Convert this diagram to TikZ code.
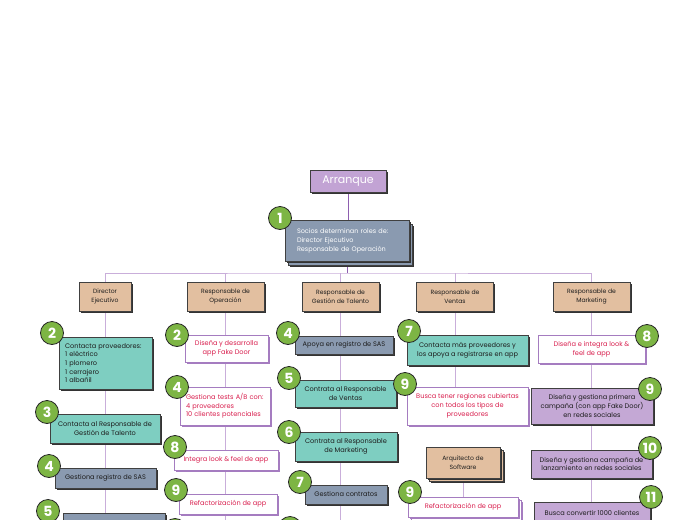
\documentclass[tikz,border=0pt]{standalone}
\usepackage{fontspec}
\setmainfont{Poppins}
\usetikzlibrary{shadows,backgrounds}
\definecolor{tealc}{HTML}{7ECEC1}
\definecolor{slatec}{HTML}{8A9AB0}
\definecolor{tanc}{HTML}{E2BFA0}
\definecolor{lavc}{HTML}{C4A8D5}
\definecolor{arrc}{HTML}{C2A3D4}
\definecolor{purpc}{HTML}{A57CC0}
\definecolor{redc}{HTML}{D9204F}
\definecolor{greenc}{HTML}{7DB544}
\definecolor{linec}{HTML}{C9AEDA}
\definecolor{trunkc}{HTML}{8E5FB0}
\definecolor{txtc}{HTML}{1E1E1E}
\begin{document}
\begin{tikzpicture}[x=1pt,y=-1pt,
  sz/.style 2 args={minimum width=#1pt, minimum height=#2pt},
  box/.style={draw=black!75, line width=0.5pt, inner sep=1pt, align=center, text=txtc,
     font=\fontsize{6.6}{8.7}\selectfont,
     drop shadow={shadow xshift=1.8pt, shadow yshift=-1.8pt, opacity=1, fill=black!80}},
  tealbox/.style={box, fill=tealc},
  slatebox/.style={box, fill=slatec},
  tanbox/.style={box, fill=tanc, font=\fontsize{6.1}{9}\selectfont},
  lavbox/.style={box, fill=lavc},
  whitebox/.style={box, fill=white, draw=purpc, text=redc,
     drop shadow={shadow xshift=1.8pt, shadow yshift=-1.8pt, opacity=1, fill=purpc}},
  num/.style={circle, fill=greenc, draw=black!85, line width=0.8pt, minimum size=23pt,
     inner sep=0pt, text=white, font=\fontsize{14}{14}\selectfont\bfseries},
  conn/.style={draw=linec, line width=0.8pt},
  trunk/.style={draw=trunkc, line width=1pt}
]
\useasboundingbox (0,0) rectangle (697,520);
\clip (0,0) rectangle (697,520);

% top
\node[box, fill=arrc, text=white, sz={76}{22}, font=\fontsize{11}{12}\selectfont] (arr) at (348,181) {Arranque};
\node[slatebox, sz={124}{41}] (n1b) at (350.5,244.5) {};
\node[slatebox, sz={124}{41}, text=white, align=left, text width=100pt, font=\fontsize{6.5}{9}\selectfont] (n1) at (347,241)
  {Socios determinan roles de:\\Director Ejecutivo\\Responsable de Operación};
\coordinate (j) at (347,273);
\coordinate (bot) at (0,560);

% roles
\node[tanbox, sz={52}{29}] (dir) at (105,296.5) {Director\\Ejecutivo};
\node[tanbox, sz={77}{29}] (ope) at (225.5,296.5) {Responsable de\\Operación};
\node[tanbox, sz={77}{29}] (tal) at (340.5,296.5) {Responsable de\\Gestión de Talento};
\node[tanbox, sz={77}{29}] (ven) at (455,296.5) {Responsable de\\Ventas};
\node[tanbox, sz={77}{29}] (mkt) at (591.5,296.5) {Responsable de\\Marketing};

% column 1
\node[tealbox, sz={93}{52}, align=left, text width=81pt] (d2) at (105.5,363)
  {Contacta proveedores:\\1 eléctrico\\1 plomero\\1 cerrajero\\1 albañil};
\node[tealbox, sz={110}{29}] (d3) at (105,428.5) {Contacta al Responsable de\\Gestión de Talento};
\node[slatebox, sz={101}{20}] (d4) at (105.5,478) {Gestiona registro de SAS};
\node[slatebox, sz={102}{28}] (d5) at (114,527) {};

% column 2
\node[whitebox, sz={83}{27}] (o2) at (226.5,348.5) {Diseña y desarrolla\\app Fake Door};
\node[whitebox, sz={90}{38}, align=left, text width=78pt] (o4) at (225,406) {Gestiona tests A/B con:\\4 proveedores\\10 clientes potenciales};
\node[whitebox, sz={104}{20}] (o8) at (226,460) {Integra look \& feel de app};
\node[whitebox, sz={98}{20}] (o9) at (228,504) {Refactorización de app};

% column 3
\node[slatebox, sz={98}{18}] (t4) at (344,345) {Apoya en registro de SAS};
\node[tealbox, sz={101}{27}] (t5) at (345.5,393.5) {Contrata al Responsable\\de Ventas};
\node[tealbox, sz={102}{29}] (t6) at (346,446.5) {Contrata al Responsable\\de Marketing};
\node[slatebox, sz={82}{19}] (t7) at (346,494.5) {Gestiona contratos};

% column 4
\node[tealbox, sz={121}{30}] (v7) at (467.5,350) {Contacta más proveedores y\\los apoya a registrarse en app};
\node[whitebox, sz={121}{38}] (v9) at (467.5,406) {Busca tener regiones cubiertas\\con todos los tipos de\\proveedores};
\node[tanbox, sz={74}{31}] (arqb) at (466,465.5) {};
\node[tanbox, sz={74}{31}] (arq) at (463,462.5) {Arquitecto de\\Software};
\node[whitebox, sz={110}{20}] (r9b) at (466,510) {};
\node[whitebox, sz={110}{20}] (r9) at (463,507) {Refactorización de app};

% column 5
\node[whitebox, sz={107}{28}] (m8) at (591.5,349) {Diseña e integra look \&\\feel de app};
\node[lavbox, sz={122}{36}] (m9) at (592,406) {Diseña y gestiona primera\\campaña (con app Fake Door)\\en redes sociales};
\node[lavbox, sz={121}{28}] (m10) at (591.5,464) {Diseña y gestiona campaña de\\lanzamiento en redes sociales};
\node[lavbox, sz={116}{22}] (m11) at (592,513) {Busca convertir 1000 clientes};

% number circles
\node[num] (k1) at (280,218) {1};
\node[num] (k12) at (52,333) {2};
\node[num] (k13) at (47,412) {3};
\node[num] (k14) at (49,466) {4};
\node[num] (k15) at (48,511) {5};
\node[num] (k22) at (177,335) {2};
\node[num] (k24) at (177,387) {4};
\node[num] (k28) at (175,447) {8};
\node[num] (k29) at (176,490) {9};
\node[num] (k2x) at (175,530) {};
\node[num] (k34) at (288,333) {4};
\node[num] (k35) at (289,378) {5};
\node[num] (k36) at (289,432) {6};
\node[num] (k37) at (300,482) {7};
\node[num] (k3x) at (290,528) {};
\node[num] (k47) at (409,331) {7};
\node[num] (k49) at (405,384) {9};
\node[num] (k49b) at (410,492) {9};
\node[num] (k58) at (647,336) {8};
\node[num] (k59) at (650,389) {9};
\node[num] (k510) at (650,448) {10};
\node[num] (k511) at (651,497) {11};

% connectors
\begin{pgfonlayer}{background}
\draw[trunk] (arr.south) -- (arr.south |- n1.north);
\draw[trunk] (n1.south) -- (j);
\draw[conn] (dir.north) |- (j) -| (mkt.north);
\draw[conn] (ope.north) -- (ope.north |- j);
\draw[conn] (tal.north) -- (tal.north |- j);
\draw[conn] (ven.north) -- (ven.north |- j);
\draw[conn] (dir.south) -- (dir.south |- d5.north);
\draw[conn] (ope.south) -- (ope.south |- bot);
\draw[conn] (tal.south) -- (tal.south |- bot);
\draw[conn] (ven.south) -- (ven.south |- v9.north);
\draw[conn] (arq.south) -- (arq.south |- r9.north);
\draw[conn] (mkt.south) -- (mkt.south |- bot);
\end{pgfonlayer}
\end{tikzpicture}
\end{document}
